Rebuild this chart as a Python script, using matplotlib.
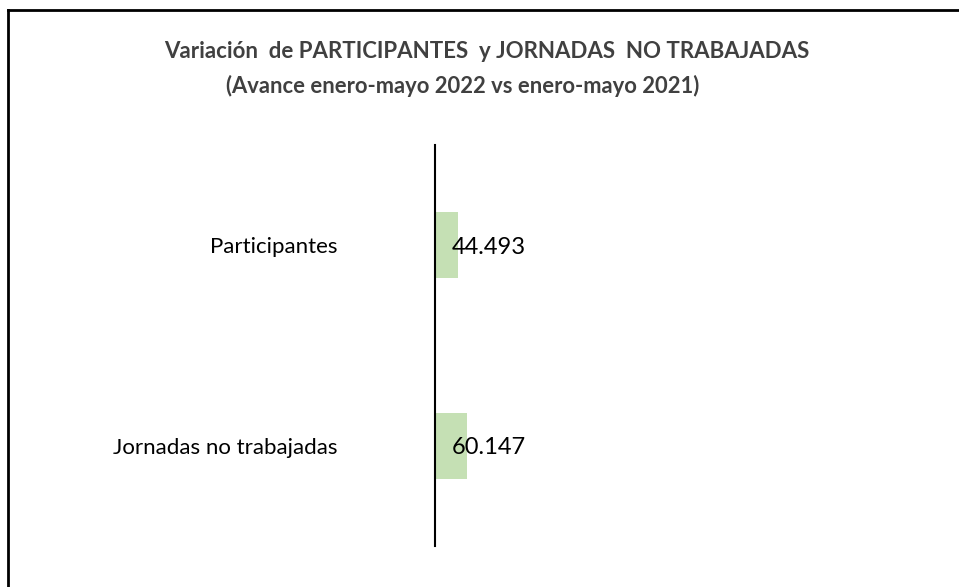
import matplotlib.pyplot as plt
from matplotlib.lines import Line2D

# data
categories = ["Participantes", "Jornadas no trabajadas"]
values = [44493, 60147]
value_labels = ["44.493", "60.147"]

title_line1 = "Variación  de PARTICIPANTES  y JORNADAS  NO TRABAJADAS"
title_line2 = "(Avance enero-mayo 2022 vs enero-mayo 2021)"

W, H = 959, 587
DPI = 100
FONT = ["Lato", "DejaVu Sans"]
BAR_COLOR = "#c5e0b4"
TITLE_COLOR = "#404040"


def fx(px: float) -> float:
    return px / W


def fy(py: float) -> float:
    return 1 - py / H


fig = plt.figure(figsize=(W / DPI, H / DPI), dpi=DPI)

# plot area: axis line at x=435px, from y=145px to 546px
ax = fig.add_axes([fx(435), fy(546), fx(940) - fx(435), fy(145) - fy(546)])

y = range(len(categories))
ax.barh(y, values, height=0.33, color=BAR_COLOR)
ax.set_ylim(len(categories) - 0.5, -0.5)
ax.set_xlim(0, 960000)

for yi, label in zip(y, value_labels):
    ax.annotate(label, (0, yi), xytext=(17, -2), textcoords="offset pixels",
                ha="left", va="center", fontsize=17, family=FONT, color="black")

ax.set_yticks(list(y))
ax.set_yticklabels(categories, family=FONT, fontsize=16)
ax.tick_params(axis="y", length=0, pad=70)
ax.set_xticks([])
for side in ("top", "right", "bottom"):
    ax.spines[side].set_visible(False)
ax.spines["left"].set_linewidth(1.5)
ax.spines["left"].set_color("black")

# titles
fig.text(fx(487), fy(52), title_line1, ha="center", va="center",
         fontsize=16, fontweight="bold", family=FONT, color=TITLE_COLOR)
fig.text(fx(463), fy(86), title_line2, ha="center", va="center",
         fontsize=15.8, fontweight="bold", family=FONT, color=TITLE_COLOR)

# chart frame (right and bottom edges fall outside the image)
fig.add_artist(Line2D([fx(8), 1.0], [fy(10), fy(10)], color="black", lw=2))
fig.add_artist(Line2D([fx(8), fx(8)], [fy(10), 0.0], color="black", lw=2))

fig.savefig("out.png", dpi=DPI)
